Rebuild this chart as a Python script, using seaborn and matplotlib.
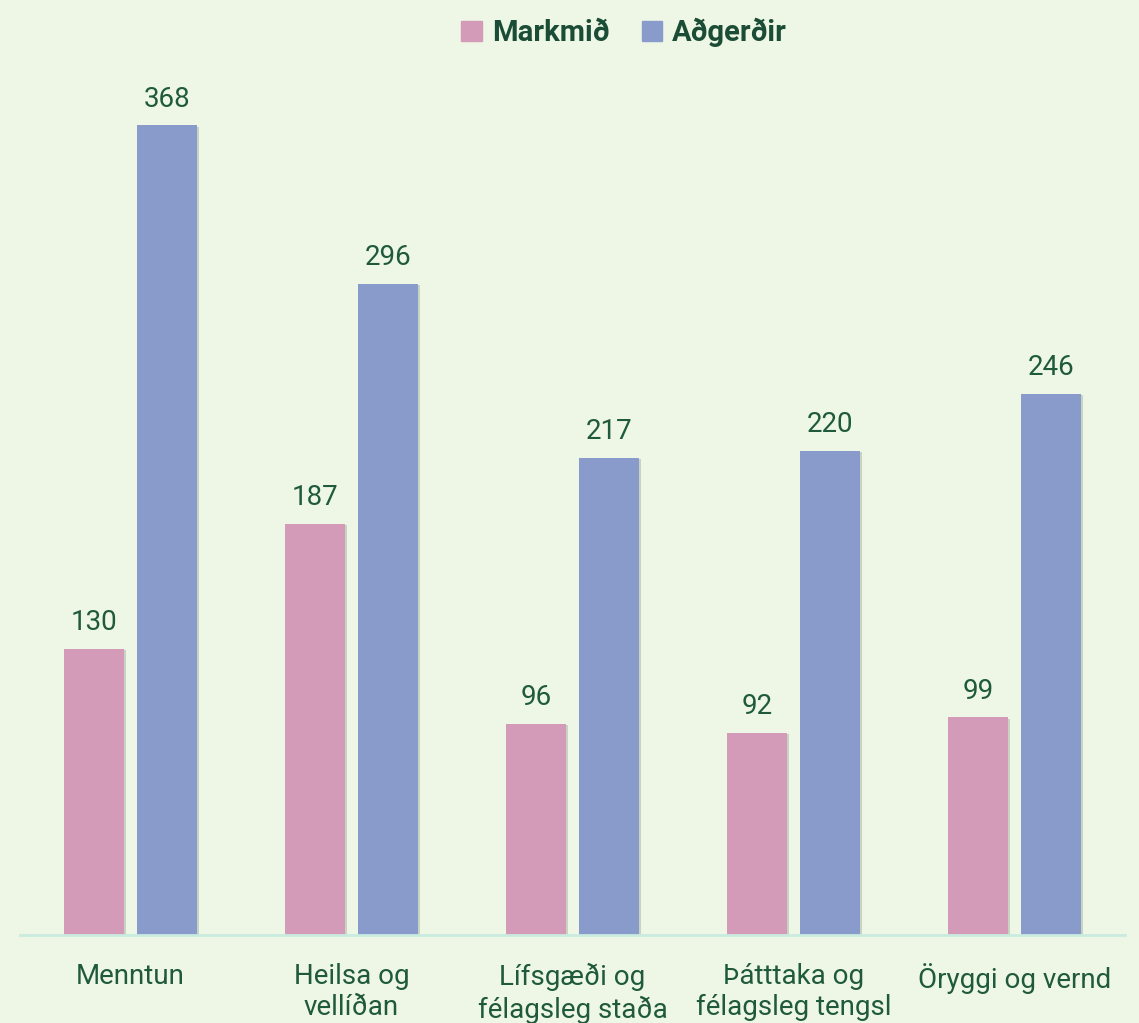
import seaborn as sns
import matplotlib.pyplot as plt
import matplotlib.patheffects as pe
import pandas as pd

## Data
categories = ["Menntun", "Heilsa og\nvellíðan", "Lífsgæði og\nfélagsleg staða",
              "Þátttaka og\nfélagsleg tengsl", "Öryggi og vernd"]
markmid = [130, 187, 96, 92, 99]
adgerdir = [368, 296, 217, 220, 246]
series_names = ["Markmið", "Aðgerðir"]

## Colors
bg_color = '#eef6e5'
colors = {"Markmið": '#d49bb8', "Aðgerðir": '#899bcb'}
text_color = '#1f5a3c'
legend_color = '#1b4d36'

## Long-form table for seaborn
df = pd.DataFrame({
    'Flokkur': categories * 2,
    'Röð': [series_names[0]] * len(categories) + [series_names[1]] * len(categories),
    'Fjöldi': markmid + adgerdir,
})

sns.set_style("white")
plt.rcParams['font.family'] = ['Roboto', 'DejaVu Sans']

fig = plt.figure(figsize=(11.39, 10.23), dpi=100, facecolor=bg_color)
ax = fig.add_axes([20 / 1139, 88 / 1023, 1105 / 1139, 880 / 1023])
ax.set_facecolor(bg_color)

sns.barplot(data=df, x='Flokkur', y='Fjöldi', hue='Röð', palette=colors,
            width=0.66, gap=0.18, saturation=1, linewidth=0, edgecolor='none',
            ax=ax, legend=False)

# Soft shadow around the bars
for p in ax.patches:
    p.set_path_effects([pe.SimplePatchShadow(offset=(1.5, -1), shadow_rgbFace='#3d5e45', alpha=0.22),
                        pe.Normal()])

# Value labels
for container in ax.containers:
    ax.bar_label(container, fmt='%d', padding=9, fontsize=20, color=text_color)

ax.set_xlim(-0.5, 4.5)
ax.set_ylim(0, 400)
ax.set_xlabel('')
ax.set_ylabel('')
ax.set_yticks([])
ax.tick_params(axis='x', length=0, pad=20, labelsize=20, labelcolor=text_color)
for lbl in ax.get_xticklabels():
    lbl.set_linespacing(1.2)
    lbl.set_verticalalignment('top')

for side in ['top', 'right', 'left']:
    ax.spines[side].set_visible(False)
ax.spines['bottom'].set_color('#c9ebe0')
ax.spines['bottom'].set_linewidth(2)

# Legend at top
handles = [plt.Rectangle((0, 0), 1, 1, color=colors[s]) for s in series_names]
leg = fig.legend(handles, series_names, loc='upper center', bbox_to_anchor=(0.548, 1.008),
                 ncol=2, frameon=False, handlelength=0.7, handleheight=0.7,
                 handletextpad=0.35, columnspacing=1.1,
                 prop={'size': 21, 'weight': 'bold'})
for t in leg.get_texts():
    t.set_color(legend_color)

plt.savefig("out.png", dpi=100, facecolor=bg_color)
